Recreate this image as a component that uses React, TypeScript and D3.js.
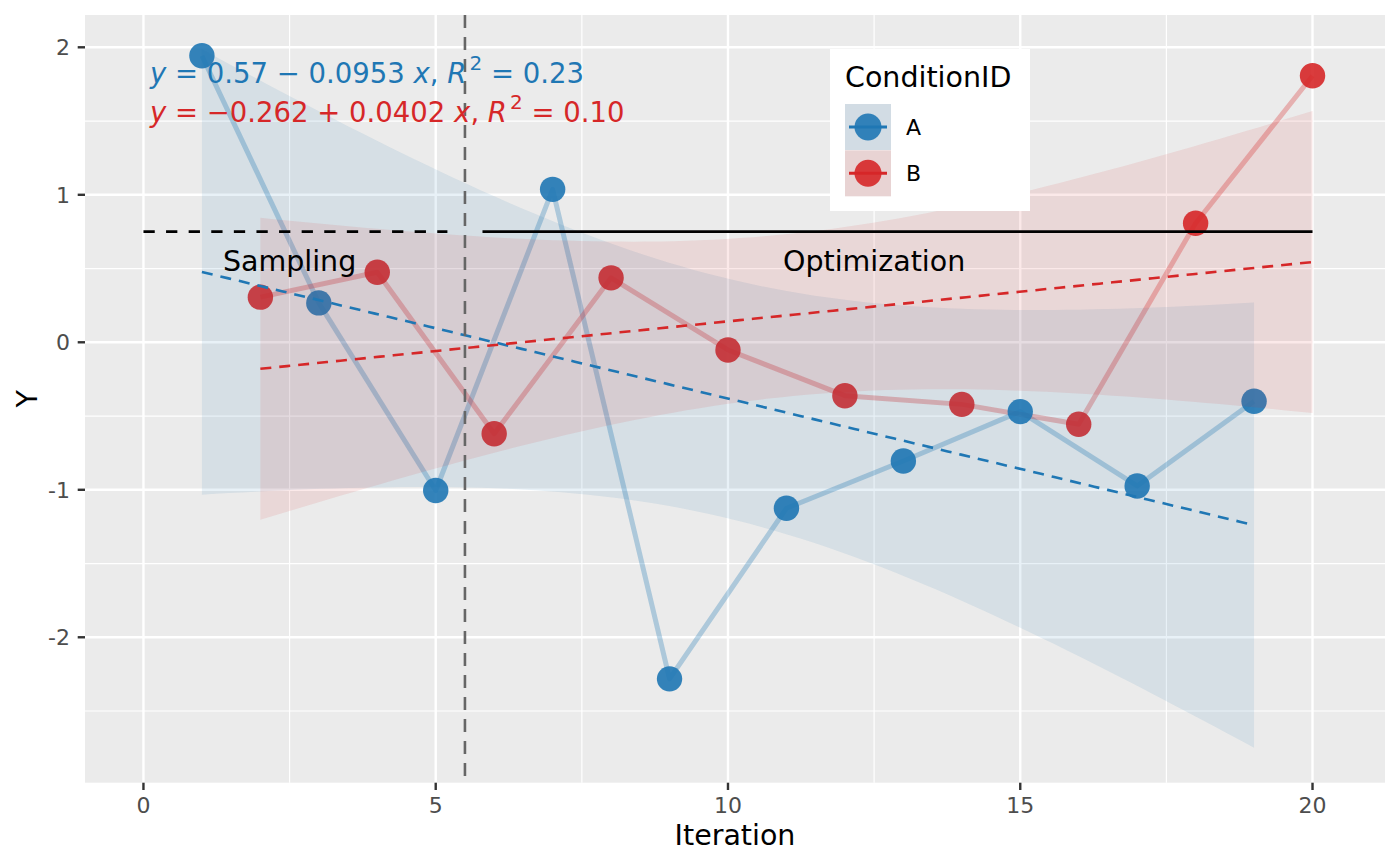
import React, { useEffect } from "react";
import * as d3 from "d3";

// ---- data ----
const iterA = [1, 3, 5, 7, 9, 11, 13, 15, 17, 19];
const valA = [1.943, 0.267, -1.005, 1.037, -2.282, -1.125, -0.805, -0.47, -0.974, -0.4];
const iterB = [2, 4, 6, 8, 10, 12, 14, 16, 18, 20];
const valB = [0.306, 0.475, -0.62, 0.437, -0.052, -0.362, -0.421, -0.556, 0.807, 1.807];
const groups = ["A", "B"];
const xTicks = [0, 5, 10, 15, 20];
const yTicks = [-2, -1, 0, 1, 2];
const xMinor = [2.5, 7.5, 12.5, 17.5];
const yMinor = [-2.5, -1.5, -0.5, 0.5, 1.5];
const threshold = 0.75;
const phaseSplit = 5.5;
const phaseGap = 0.3;
const phaseLabels = ["Sampling", "Optimization"];
const phaseLabelX = [2.5, 12.5];
const phaseLabelY = 0.55;
const eqIntercept = ["0.57", "\u22120.262"];
const eqOp = ["\u2212", "+"];
const eqSlope = ["0.0953", "0.0402"];
const eqR2 = ["0.23", "0.10"];
const T_QUANT = 2.306004; // qt(0.975, df = 8)

const COLORS = ["#1F77B4", "#D62728"];
const FONT = "'DejaVu Sans', sans-serif";

const W = 1400, H = 866;
const PL = 85, PR = 1385, PT = 15, PB = 782.7;
const TITLE_FS = 28.5;

function fitLm(xs: number[], ys: number[]) {
  const n = xs.length;
  const mx = d3.mean(xs)!, my = d3.mean(ys)!;
  let sxx = 0, sxy = 0;
  xs.forEach((x, i) => { sxx += (x - mx) ** 2; sxy += (x - mx) * (ys[i] - my); });
  const b = sxy / sxx, a = my - b * mx;
  let sse = 0;
  xs.forEach((x, i) => { sse += (ys[i] - a - b * x) ** 2; });
  const s = Math.sqrt(sse / (n - 2));
  const xmin = d3.min(xs)!, xmax = d3.max(xs)!;
  return d3.range(80).map(k => {
    const x = xmin + (xmax - xmin) * k / 79;
    const f = a + b * x;
    const se = s * Math.sqrt(1 / n + (x - mx) ** 2 / sxx);
    return { x, f, lo: f - T_QUANT * se, hi: f + T_QUANT * se };
  });
}

export default function App() {
  useEffect(() => { document.body.style.margin = "0"; }, []);
  const x = d3.scaleLinear().domain([-1.0, 21.24]).range([PL, PR]);
  const y = d3.scaleLinear().domain([-2.986, 2.219]).range([PB, PT]);

  const series = [
    { xs: iterA, ys: valA },
    { xs: iterB, ys: valB },
  ];
  const fits = series.map(s => fitLm(s.xs, s.ys));

  const area = d3.area<any>().x(d => x(d.x)).y0(d => y(d.lo)).y1(d => y(d.hi));
  const fline = d3.line<any>().x(d => x(d.x)).y(d => y(d.f));
  const pline = d3.line<number>();

  return (
    <svg width={W} height={H} style={{ display: "block" }} fontFamily={FONT}>
      <defs>
        <clipPath id="panel"><rect x={PL} y={PT} width={PR - PL} height={PB - PT} /></clipPath>
      </defs>
      <rect width={W} height={H} fill="#fff" />
      <rect x={PL} y={PT} width={PR - PL} height={PB - PT} fill="#EBEBEB" />
      {xMinor.map(v => <line key={"xm" + v} x1={x(v)} x2={x(v)} y1={PT} y2={PB} stroke="#fff" strokeWidth={1.2} />)}
      {yMinor.map(v => <line key={"ym" + v} y1={y(v)} y2={y(v)} x1={PL} x2={PR} stroke="#fff" strokeWidth={1.2} />)}
      {xTicks.map(v => <line key={"xg" + v} x1={x(v)} x2={x(v)} y1={PT} y2={PB} stroke="#fff" strokeWidth={2.4} />)}
      {yTicks.map(v => <line key={"yg" + v} y1={y(v)} y2={y(v)} x1={PL} x2={PR} stroke="#fff" strokeWidth={2.4} />)}

      <g clipPath="url(#panel)">
        {series.map((s, i) => (
          <path key={"pl" + i} d={pline(s.xs.map((v, k) => [x(v), y(s.ys[k])]) as any) || ""}
            fill="none" stroke={COLORS[i]} strokeOpacity={0.3} strokeWidth={5} strokeLinejoin="round" />
        ))}
        {series.map((s, i) => s.xs.map((v, k) => (
          <circle key={"pt" + i + "_" + k} cx={x(v)} cy={y(s.ys[k])} r={12.7} fill={COLORS[i]} fillOpacity={0.9} />
        )))}
        {fits.map((f, i) => (
          <path key={"rb" + i} d={area(f) || ""} fill={COLORS[i]} fillOpacity={0.1} />
        ))}
        {fits.map((f, i) => (
          <path key={"fl" + i} d={fline(f) || ""} fill="none" stroke={COLORS[i]} strokeWidth={2.6} strokeDasharray="11,8" />
        ))}
        <line x1={x(0)} x2={x(phaseSplit - phaseGap)} y1={y(threshold)} y2={y(threshold)} stroke="#000" strokeWidth={2.8} strokeDasharray="11.3,11.3" />
        <line x1={x(phaseSplit + phaseGap)} x2={x(20)} y1={y(threshold)} y2={y(threshold)} stroke="#000" strokeWidth={2.8} />
        <line x1={x(phaseSplit)} x2={x(phaseSplit)} y1={PT} y2={PB} stroke="#666" strokeWidth={2.6} strokeDasharray="13,9" />
        {phaseLabels.map((t, i) => (
          <text key={"ph" + i} x={x(phaseLabelX[i])} y={y(phaseLabelY)} dy="0.36em" textAnchor="middle" fontSize={TITLE_FS} fill="#000">{t}</text>
        ))}
        {groups.map((g, i) => (
          <text key={"eq" + i} x={PL + 0.05 * (PR - PL)} y={83.3 + i * 38.4} fontSize={27.5} fill={COLORS[i]}>
            <tspan fontStyle="italic">y</tspan>
            <tspan>{" = " + eqIntercept[i] + " "}</tspan>
            <tspan>{eqOp[i]}</tspan>
            <tspan>{" " + eqSlope[i] + " "}</tspan>
            <tspan fontStyle="italic">x</tspan>
            <tspan>{", "}</tspan>
            <tspan fontStyle="italic">R</tspan>
            <tspan dx={3} dy={-13} fontSize={20}>2</tspan>
            <tspan dy={13}>{" = " + eqR2[i]}</tspan>
          </text>
        ))}
      </g>

      {xTicks.map(v => (
        <g key={"xt" + v}>
          <line x1={x(v)} x2={x(v)} y1={PB} y2={PB + 7.3} stroke="#333" strokeWidth={2.4} />
          <text x={x(v)} y={813.3} textAnchor="middle" fontSize={22} fill="#4D4D4D">{v}</text>
        </g>
      ))}
      {yTicks.map(v => (
        <g key={"yt" + v}>
          <line x1={PL - 7.3} x2={PL} y1={y(v)} y2={y(v)} stroke="#333" strokeWidth={2.4} />
          <text x={70} y={y(v)} dy="0.36em" textAnchor="end" fontSize={22} fill="#4D4D4D">{v}</text>
        </g>
      ))}
      <text x={(PL + PR) / 2} y={845} textAnchor="middle" fontSize={TITLE_FS} fill="#000">Iteration</text>
      <text transform={`translate(37,${(PT + PB) / 2}) rotate(-90)`} textAnchor="middle" fontSize={TITLE_FS} fill="#000">Y</text>

      <rect x={830} y={49} width={200} height={162} fill="#fff" />
      <text x={845} y={87} fontSize={TITLE_FS} fill="#000">ConditionID</text>
      {groups.map((g, i) => {
        const ky = 104 + i * 46.3;
        return (
          <g key={"lg" + g}>
            <rect x={845} y={ky} width={46} height={46} fill="#EBEBEB" />
            <rect x={845} y={ky} width={46} height={46} fill={COLORS[i]} fillOpacity={0.12} />
            <line x1={849} x2={887} y1={ky + 23} y2={ky + 23} stroke={COLORS[i]} strokeWidth={3} />
            <circle cx={868} cy={ky + 23} r={13.5} fill={COLORS[i]} fillOpacity={0.9} />
            <text x={906} y={ky + 23} dy="0.36em" fontSize={22} fill="#000">{g}</text>
          </g>
        );
      })}
    </svg>
  );
}
